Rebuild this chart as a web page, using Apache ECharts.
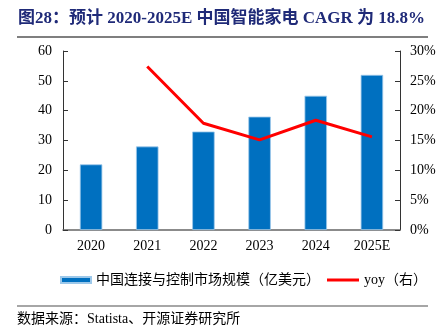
<!DOCTYPE html>
<html><head><meta charset="utf-8">
<script src="https://cdn.jsdelivr.net/npm/echarts@6/dist/echarts.min.js"></script>
<style>html,body{margin:0;padding:0;background:#fff}#c{width:441px;height:332px}</style>
</head><body><div id="c"></div>
<script>
const categories = ['2020','2021','2022','2023','2024','2025E'];
const marketSize = [22, 28, 33, 38, 45, 52];
const yoy = [null, 27.4, 17.9, 15.1, 18.4, 15.6];
const leftTicks = {min:0, max:60, interval:10};
const rightTicks = {min:0, max:30, interval:5};
const barName = '中国连接与控制市场规模（亿美元）';
const lineName = 'yoy（右）';
const titleText = '图28：预计 2020-2025E 中国智能家电 CAGR 为 18.8%';
const sourceText = '数据来源：Statista、开源证券研究所';

const serif = 'Liberation Serif, "Times New Roman", "Noto Sans CJK SC", serif';
const chart = echarts.init(document.getElementById('c'));
chart.setOption({
  animation:false,
  title:{text:titleText, left:18, top:10, padding:0, textStyle:{fontFamily:serif, fontWeight:'bold', fontSize:17, color:'#1F2A78'}},
  graphic:[
    {type:'line', shape:{x1:17,y1:37,x2:428,y2:37}, style:{stroke:'#555', lineWidth:1.5}},
    {type:'line', shape:{x1:17,y1:306,x2:428,y2:306}, style:{stroke:'#888', lineWidth:1.5}},
    {type:'text', left:17, top:312, style:{text:sourceText, font:'14px Liberation Serif, "Noto Sans CJK SC"', fill:'#000'}}
  ],
  grid:{left:63, right:41, top:51, bottom:102},
  legend:[
    {left:55, top:268, itemWidth:30, itemHeight:6, icon:'rect',
      textStyle:{fontFamily:serif, fontSize:14, color:'#000'}, data:[barName]},
    {left:322, top:268, itemWidth:32, itemHeight:3, icon:'rect',
      textStyle:{fontFamily:serif, fontSize:14, color:'#000'}, data:[lineName]}
  ],
  xAxis:{type:'category', data:categories,
    axisLine:{lineStyle:{color:'#666', width:1.5}},
    axisTick:{inside:true, alignWithLabel:false, lineStyle:{color:'#666'}},
    axisLabel:{fontFamily:serif, fontSize:14, color:'#000', margin:9}},
  yAxis:[
    {type:'value', min:leftTicks.min, max:leftTicks.max, interval:leftTicks.interval,
      splitLine:{show:false},
      axisLine:{show:true, lineStyle:{color:'#333'}},
      axisTick:{show:true, inside:true, lineStyle:{color:'#333'}},
      axisLabel:{fontFamily:serif, fontSize:14, color:'#000', margin:11}},
    {type:'value', min:rightTicks.min, max:rightTicks.max, interval:rightTicks.interval, position:'right',
      splitLine:{show:false},
      axisLine:{show:true, lineStyle:{color:'#333'}},
      axisTick:{show:true, inside:true, lineStyle:{color:'#333'}},
      axisLabel:{fontFamily:serif, fontSize:14, color:'#000', margin:10, formatter:'{value}%'}}
  ],
  series:[
    {name:barName, type:'bar', data:marketSize, barWidth:'40%',
      itemStyle:{color:'#0070C0', borderColor:'#9CC8EA', borderWidth:0.8}},
    {name:lineName, type:'line', yAxisIndex:1, data:yoy, symbol:'none',
      lineStyle:{color:'#FF0000', width:3}, itemStyle:{color:'#FF0000'}}
  ]
});
</script></body></html>
